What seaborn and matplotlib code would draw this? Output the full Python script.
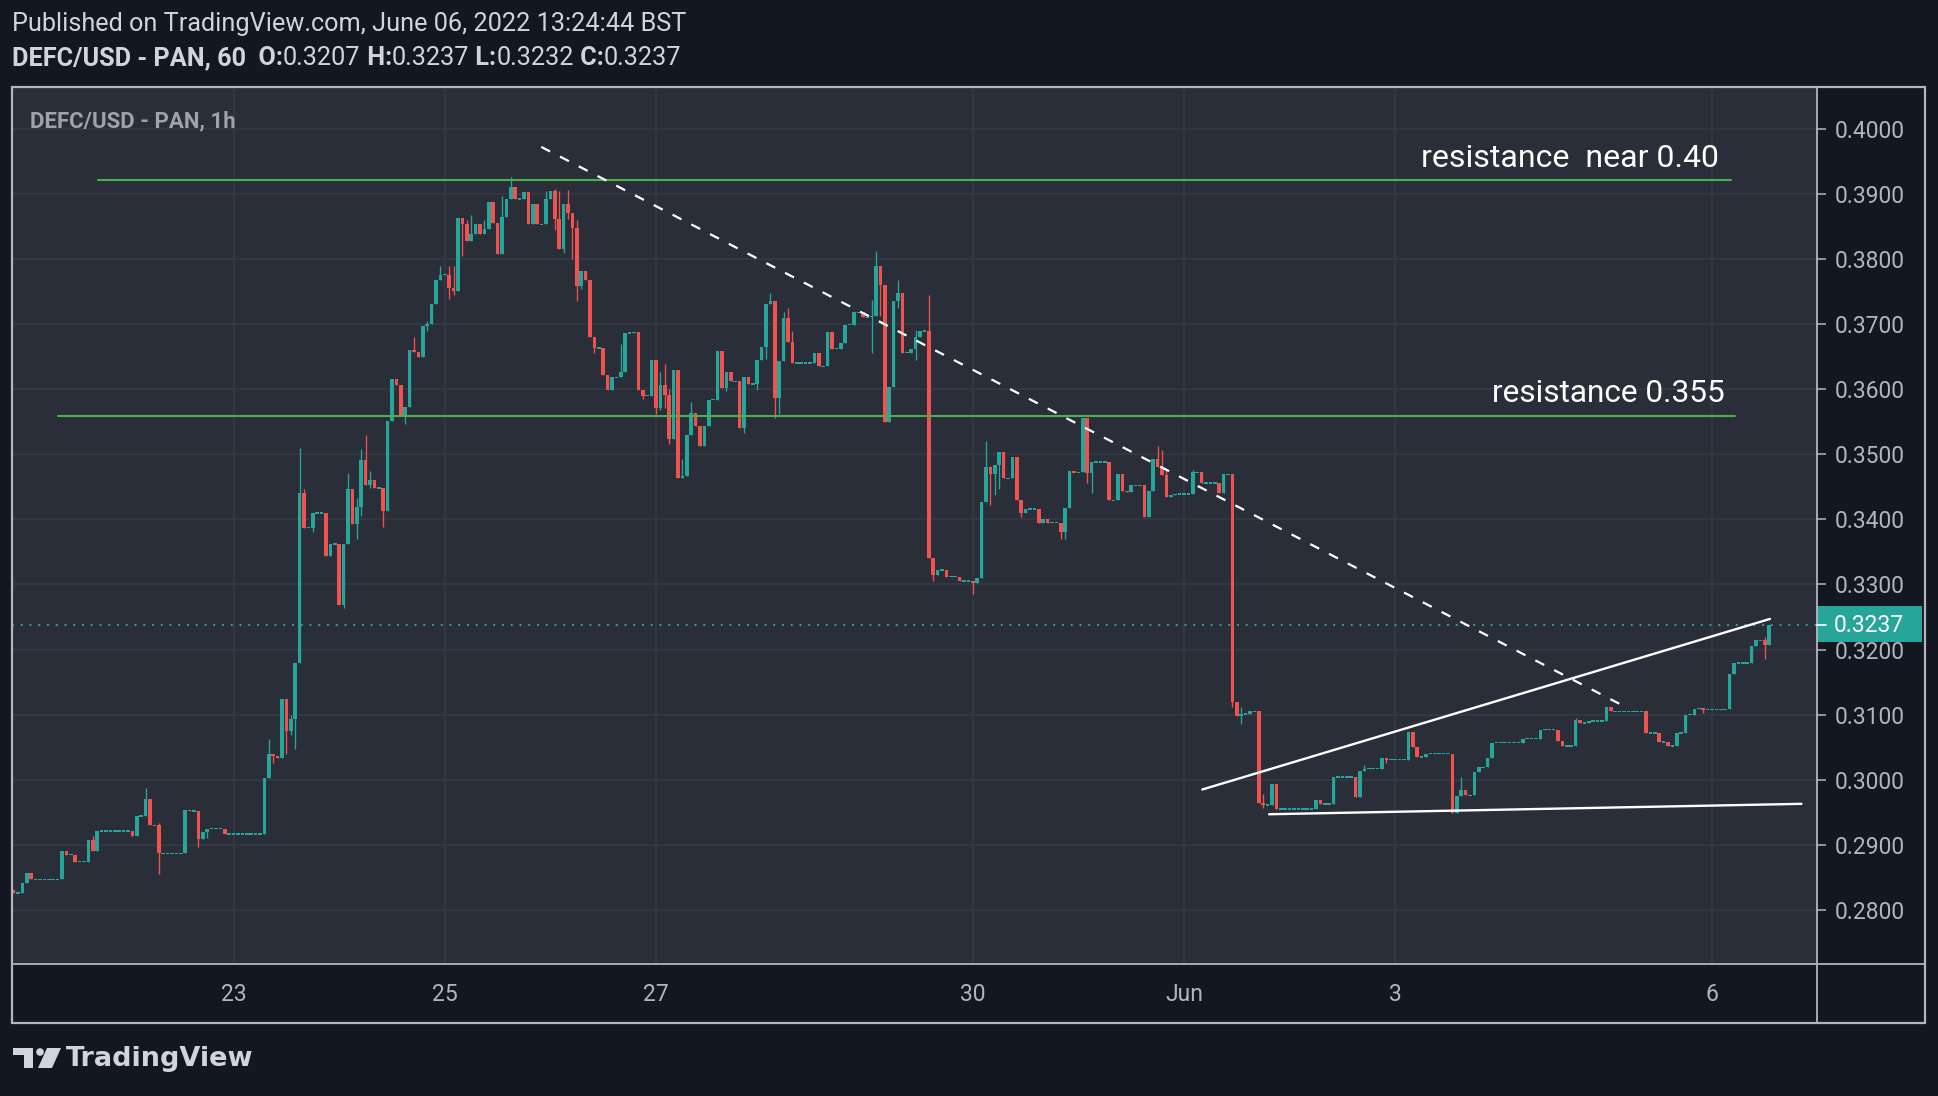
import numpy as np
import pandas as pd
import seaborn as sns
import matplotlib
matplotlib.use("Agg")
import matplotlib.pyplot as plt
import matplotlib.dates as mdates
from matplotlib.patches import Rectangle, Polygon, Circle

# DEFC/USD - PAN, hourly candles, first bar 2022-05-20 22:00
START = "2022-05-20 22:00"
first_open = 0.2831
close = [
    0.2826, 0.2826, 0.2842, 0.2857, 0.2847, 0.2847, 0.2847, 0.2847, 0.2847, 0.2847,
    0.2847, 0.2891, 0.2885, 0.2885, 0.2874, 0.2874, 0.2874, 0.2907, 0.2890, 0.2921,
    0.2921, 0.2921, 0.2921, 0.2921, 0.2921, 0.2921, 0.2921, 0.2914, 0.2944, 0.2944,
    0.2970, 0.2930, 0.2930, 0.2887, 0.2887, 0.2887, 0.2887, 0.2887, 0.2887, 0.2954,
    0.2952, 0.2952, 0.2909, 0.2919, 0.2925, 0.2925, 0.2925, 0.2925, 0.2917, 0.2917,
    0.2917, 0.2917, 0.2917, 0.2917, 0.2917, 0.2917, 0.2917, 0.3003, 0.3040, 0.3037,
    0.3033, 0.3124, 0.3075, 0.3094, 0.3179, 0.3441, 0.3387, 0.3387, 0.3410, 0.3410,
    0.3410, 0.3344, 0.3362, 0.3362, 0.3268, 0.3362, 0.3447, 0.3393, 0.3419, 0.3491,
    0.3453, 0.3460, 0.3448, 0.3448, 0.3413, 0.3551, 0.3615, 0.3606, 0.3558, 0.3573,
    0.3660, 0.3657, 0.3649, 0.3697, 0.3700, 0.3731, 0.3767, 0.3776, 0.3776, 0.3756,
    0.3750, 0.3863, 0.3853, 0.3827, 0.3838, 0.3854, 0.3838, 0.3846, 0.3887, 0.3855,
    0.3808, 0.3864, 0.3892, 0.3911, 0.3892, 0.3892, 0.3903, 0.3853, 0.3884, 0.3853,
    0.3853, 0.3892, 0.3904, 0.3862, 0.3815, 0.3885, 0.3871, 0.3848, 0.3759, 0.3781,
    0.3767, 0.3680, 0.3663, 0.3663, 0.3622, 0.3598, 0.3618, 0.3618, 0.3627, 0.3686,
    0.3686, 0.3687, 0.3598, 0.3590, 0.3590, 0.3644, 0.3571, 0.3606, 0.3591, 0.3523,
    0.3630, 0.3463, 0.3466, 0.3529, 0.3563, 0.3543, 0.3512, 0.3543, 0.3584, 0.3584,
    0.3659, 0.3601, 0.3626, 0.3612, 0.3612, 0.3541, 0.3619, 0.3608, 0.3608, 0.3645,
    0.3665, 0.3730, 0.3735, 0.3586, 0.3643, 0.3709, 0.3673, 0.3640, 0.3640, 0.3640,
    0.3640, 0.3640, 0.3655, 0.3635, 0.3635, 0.3687, 0.3662, 0.3662, 0.3671, 0.3699,
    0.3699, 0.3718, 0.3718, 0.3710, 0.3710, 0.3713, 0.3789, 0.3760, 0.3550, 0.3603,
    0.3735, 0.3747, 0.3656, 0.3656, 0.3661, 0.3680, 0.3689, 0.3689, 0.3340, 0.3315,
    0.3322, 0.3322, 0.3312, 0.3312, 0.3312, 0.3305, 0.3305, 0.3305, 0.3302, 0.3310,
    0.3427, 0.3481, 0.3470, 0.3483, 0.3504, 0.3463, 0.3463, 0.3495, 0.3430, 0.3409,
    0.3416, 0.3416, 0.3416, 0.3395, 0.3400, 0.3395, 0.3395, 0.3395, 0.3380, 0.3417,
    0.3474, 0.3472, 0.3472, 0.3556, 0.3471, 0.3488, 0.3488, 0.3488, 0.3488, 0.3429,
    0.3429, 0.3470, 0.3444, 0.3442, 0.3452, 0.3452, 0.3452, 0.3404, 0.3444, 0.3492,
    0.3480, 0.3468, 0.3435, 0.3437, 0.3439, 0.3439, 0.3439, 0.3439, 0.3472, 0.3472,
    0.3456, 0.3456, 0.3456, 0.3456, 0.3441, 0.3469, 0.3469, 0.3119, 0.3098, 0.3101,
    0.3101, 0.3105, 0.3105, 0.2965, 0.2961, 0.2961, 0.2993, 0.2955, 0.2955, 0.2955,
    0.2955, 0.2955, 0.2955, 0.2955, 0.2955, 0.2955, 0.2969, 0.2963, 0.2963, 0.2963,
    0.3004, 0.3004, 0.3004, 0.3004, 0.3004, 0.2974, 0.3014, 0.3017, 0.3017, 0.3017,
    0.3017, 0.3034, 0.3031, 0.3031, 0.3031, 0.3031, 0.3031, 0.3073, 0.3051, 0.3035,
    0.3035, 0.3040, 0.3040, 0.3040, 0.3040, 0.3040, 0.3040, 0.2949, 0.2975, 0.2984,
    0.2976, 0.2976, 0.3012, 0.3019, 0.3019, 0.3034, 0.3057, 0.3057, 0.3057, 0.3057,
    0.3057, 0.3057, 0.3057, 0.3063, 0.3063, 0.3063, 0.3063, 0.3077, 0.3077, 0.3077,
    0.3077, 0.3060, 0.3052, 0.3052, 0.3052, 0.3092, 0.3087, 0.3087, 0.3090, 0.3090,
    0.3090, 0.3090, 0.3112, 0.3105, 0.3105, 0.3105, 0.3105, 0.3105, 0.3105, 0.3105,
    0.3105, 0.3072, 0.3072, 0.3072, 0.3058, 0.3058, 0.3052, 0.3052, 0.3072, 0.3072,
    0.3100, 0.3100, 0.3109, 0.3109, 0.3108, 0.3108, 0.3108, 0.3108, 0.3108, 0.3108,
    0.3162, 0.3179, 0.3179, 0.3179, 0.3179, 0.3206, 0.3214, 0.3214, 0.3207, 0.3237,
]
# wicks that stick out of the body (candle index -> price)
wick_high = {
    18: 0.2914, 30: 0.2987, 33: 0.2933, 58: 0.3062, 63: 0.3100, 65: 0.3509,
    66: 0.3446, 76: 0.3471, 78: 0.3432, 79: 0.3508, 80: 0.3530, 81: 0.3474,
    91: 0.3680, 94: 0.3704, 97: 0.3789, 99: 0.3789, 100: 0.3789, 103: 0.3860,
    104: 0.3868, 107: 0.3860, 111: 0.3896, 113: 0.3925, 121: 0.3905, 123: 0.3908,
    124: 0.3904, 126: 0.3906, 128: 0.3859, 138: 0.3670, 147: 0.3627, 148: 0.3639,
    149: 0.3600, 152: 0.3492, 154: 0.3580, 172: 0.3747, 175: 0.3719, 176: 0.3725,
    177: 0.3690, 195: 0.3737, 196: 0.3812, 201: 0.3768, 205: 0.3691, 208: 0.3745,
    221: 0.3521, 222: 0.3482, 260: 0.3512, 261: 0.3506, 262: 0.3475, 268: 0.3475,
    279: 0.3112, 284: 0.2978, 307: 0.3023, 329: 0.3004, 355: 0.3095, 398: 0.3220,
}
wick_low = {
    33: 0.2855, 42: 0.2897, 44: 0.2910, 59: 0.3026, 62: 0.3040, 63: 0.3068,
    64: 0.3047, 68: 0.3380, 75: 0.3264, 78: 0.3369, 79: 0.3405, 81: 0.3448,
    84: 0.3388, 89: 0.3546, 94: 0.3690, 99: 0.3738, 100: 0.3745, 102: 0.3805,
    123: 0.3845, 125: 0.3809, 126: 0.3861, 127: 0.3800, 128: 0.3736, 129: 0.3754,
    132: 0.3655, 143: 0.3585, 146: 0.3561, 147: 0.3568, 148: 0.3571, 149: 0.3515,
    162: 0.3597, 166: 0.3533, 169: 0.3599, 171: 0.3646, 173: 0.3555, 174: 0.3561,
    188: 0.3667, 195: 0.3655, 197: 0.3713, 201: 0.3725, 205: 0.3644, 209: 0.3305,
    218: 0.3285, 222: 0.3422, 223: 0.3437, 224: 0.3446, 229: 0.3404, 238: 0.3370,
    239: 0.3370, 244: 0.3456, 245: 0.3440, 277: 0.3111, 279: 0.3086, 284: 0.2957,
    312: 0.3025, 384: 0.3103, 398: 0.3186,
}

day_ticks = ["2022-05-23", "2022-05-25", "2022-05-27", "2022-05-30",
             "2022-06-01", "2022-06-03", "2022-06-06"]
day_labels = ["23", "25", "27", "30", "Jun", "3", "6"]
price_ticks = [0.28, 0.29, 0.30, 0.31, 0.32, 0.33, 0.34, 0.35, 0.36, 0.37, 0.38, 0.39, 0.40]

# drawings on the chart
res_top_t = ["2022-05-21 17:10", "2022-06-06 04:20"]
res_top_p = [0.3921, 0.3921]
res_mid_t = ["2022-05-21 08:05", "2022-06-06 05:15"]
res_mid_p = [0.3559, 0.3559]
trend_t = ["2022-05-25 21:55", "2022-06-05 04:35"]
trend_p = [0.3972, 0.3111]
wedge_top_t = ["2022-06-01 04:10", "2022-06-06 13:10"]
wedge_top_p = [0.2985, 0.3247]
wedge_bot_t = ["2022-06-01 19:20", "2022-06-06 20:20"]
wedge_bot_p = [0.2947, 0.2963]
last_price = 0.3237

assert len(close) == 400

TEAL = "#26a69a"
RED = "#ef5350"
PANE = "#2a2e39"
OUTER = "#131722"
GRID = "#363a45"
FRAME = "#b2b5be"
TXT = "#d1d4dc"

sns.set_theme(style="dark")
plt.rcParams["font.family"] = ["Roboto", "DejaVu Sans"]

W, H = 1938, 1096
fig = plt.figure(figsize=(W / 100, H / 100), dpi=100, facecolor=OUTER)

# main pane, pixel box (12, 87) - (1817, 964)
ax = fig.add_axes([12 / W, 1 - 964 / H, 1805 / W, 877 / H], zorder=1)
ax.set_facecolor(PANE)

t = mdates.date2num(pd.date_range(START, periods=len(close), freq="h"))
c = np.array(close)
o = np.r_[first_open, c[:-1]]
hi = np.maximum(o, c)
lo = np.minimum(o, c)
for i, v in wick_high.items():
    hi[i] = max(hi[i], v)
for i, v in wick_low.items():
    lo[i] = min(lo[i], v)
colors = np.where(c >= o, TEAL, RED)
min_h = 0.00022
body = np.abs(c - o)
bottom = np.where(body < min_h, (o + c) / 2 - min_h / 2, np.minimum(o, c))
body = np.maximum(body, min_h)

ax.vlines(t, lo, hi, colors=colors, lw=0.95, zorder=3)
ax.bar(t, body, bottom=bottom, width=0.85 / 24, color=colors, linewidth=0, zorder=4)

def dn(s):
    return mdates.date2num(pd.to_datetime(s))

ax.plot(dn(res_top_t), res_top_p, color="#4caf50", lw=1.5, zorder=5)
ax.plot(dn(res_mid_t), res_mid_p, color="#4caf50", lw=1.5, zorder=5)
ax.plot(dn(trend_t), trend_p, color="white", lw=1.6, ls=(0, (4.5, 5)), zorder=5)
ax.plot(dn(wedge_top_t), wedge_top_p, color="white", lw=1.7, zorder=5)
ax.plot(dn(wedge_bot_t), wedge_bot_p, color="white", lw=1.7, zorder=5)
ax.axhline(last_price, color=TEAL, lw=1.4, ls=(0, (1, 3.5)), zorder=2)

ax.set_xlim(dn("2022-05-20 21:38"), dn("2022-06-06 23:52"))
ax.set_ylim(0.2717, 0.4064)
ax.set_xticks(dn(day_ticks))
ax.set_xticklabels(day_labels)
ax.set_yticks(price_ticks)
ax.set_yticklabels([f"{p:.4f}" for p in price_ticks])
ax.yaxis.tick_right()
ax.tick_params(axis="y", colors=FRAME, labelcolor=FRAME, labelsize=16.5,
               length=6.5, width=1.1, pad=6, direction="out")
ax.tick_params(axis="x", colors=FRAME, labelcolor=FRAME, labelsize=16.5,
               length=5, width=1.1, pad=9, direction="out")
ax.grid(True, color=GRID, lw=1.1)
for s in ax.spines.values():
    s.set_visible(False)

# overlay in pixel coordinates: frame, price box, header, logo
ov = fig.add_axes([0, 0, 1, 1], zorder=2)
ov.set_xlim(0, W)
ov.set_ylim(H, 0)
ov.axis("off")
ov.add_patch(Rectangle((12, 87), 1913, 936, fill=False, ec=FRAME, lw=1.6))
ov.plot([1817, 1817], [87, 1023], color=FRAME, lw=1.3)
ov.plot([12, 1925], [964, 964], color=FRAME, lw=1.3)

ov.text(30, 121, "DEFC/USD - PAN, 1h", fontsize=16, weight="bold",
        color="#9fa2ab", va="center", ha="left")

ov.add_patch(Rectangle((1816, 606), 106, 36, color=TEAL, lw=0))
ov.plot([1817, 1826], [624.5, 624.5], color="white", lw=1.2)
ov.text(1834, 625, f"{last_price:.4f}", color="white", fontsize=16.5, va="center", ha="left")

ov.text(1719, 167, "resistance  near 0.40", color="white", fontsize=23,
        ha="right", va="baseline")
ov.text(1725, 402, "resistance 0.355", color="white", fontsize=22.8,
        ha="right", va="baseline")

ov.text(12, 24, "Published on TradingView.com, June 06, 2022 13:24:44 BST",
        color=TXT, fontsize=18.2, va="center", ha="left")
pieces = [("  O:", "bold"), ("0.3207", "normal"), (" H:", "bold"), ("0.3237", "normal"),
          (" L:", "bold"), ("0.3232", "normal"), (" C:", "bold"), ("0.3237", "normal")]
prev = ov.text(12, 58, "DEFC/USD - PAN, 60", color=TXT, fontsize=18.2, weight="bold",
               va="center", ha="left")
for s, w in pieces:
    prev = ov.annotate(s, xy=(1, 0), xycoords=prev, va="bottom", ha="left",
                       color=TXT, fontsize=18.2, weight=w)

# TradingView logo
ov.add_patch(Rectangle((13, 1048), 20, 7, color=TXT, lw=0))
ov.add_patch(Rectangle((24, 1048), 9, 20, color=TXT, lw=0))
ov.add_patch(Circle((40, 1052), 3.8, color=TXT, lw=0))
ov.add_patch(Polygon([(47, 1048), (61, 1048), (52, 1068), (38, 1068)], color=TXT, lw=0))
ov.text(66, 1059, "TradingView", color=TXT, fontsize=19.5, weight="bold",
        family="DejaVu Sans", va="center", ha="left")

fig.savefig("out.png", dpi=100, facecolor=OUTER)
